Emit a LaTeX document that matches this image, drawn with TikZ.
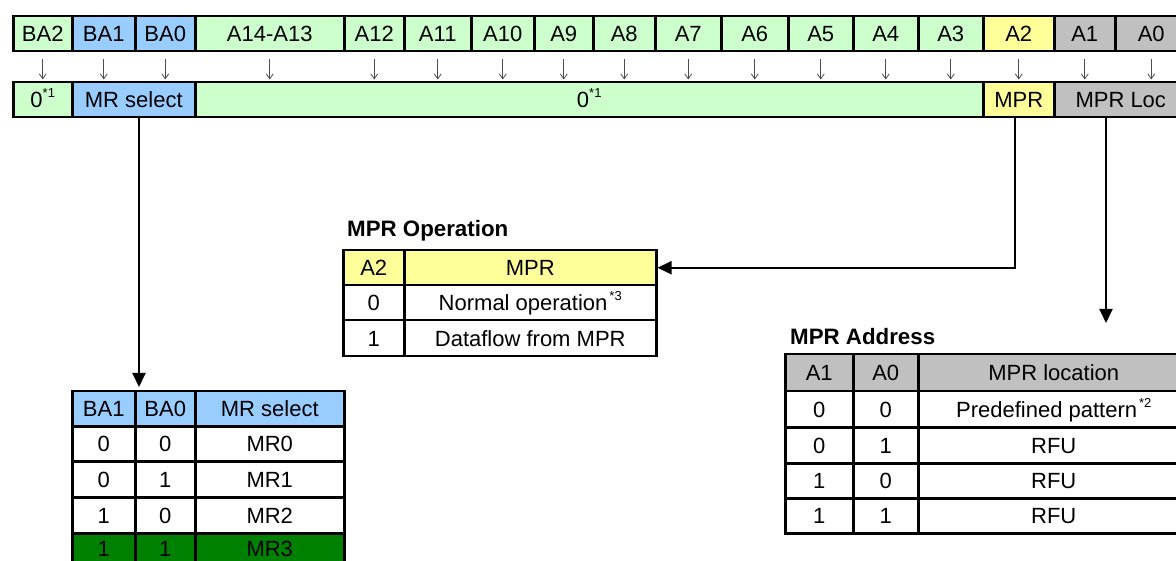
\documentclass[tikz,border=0pt]{standalone}
\usepackage{fontspec}
\setmainfont{Liberation Sans}
\usetikzlibrary{arrows.meta}
\definecolor{lgreen}{HTML}{CCFFCC}
\definecolor{lblue}{HTML}{99CCFF}
\definecolor{lyellow}{HTML}{FFFF99}
\definecolor{lgray}{HTML}{C0C0C0}
\definecolor{dgreen}{HTML}{008000}
\newcommand\cellfont{\fontsize{22}{26}\selectfont}
\newcommand\titlefont{\fontsize{22.3}{26}\selectfont\bfseries}
\newcommand\sups[1]{\raisebox{10pt}{\fontsize{13}{13}\selectfont #1}}
\tikzset{
  cellbox/.style={draw=black, line width=2.5pt, inner sep=0pt, anchor=north west,
    font=\cellfont, text=black, text height=16pt, text depth=0pt},
  smallarrow/.style={draw=black!70, line width=0.8pt, -{Straight Barb[length=5pt,width=7pt]}},
  conn/.style={draw=black, line width=2pt, -{Triangle[length=14pt,width=13pt]}},
  ttl/.style={font=\titlefont, anchor=west, inner sep=0pt},
}
\newcommand\Cell[7]{%
  \node[cellbox, fill=#6, minimum width={(#4-#2)*1pt}, minimum height={(#5-#3)*1pt}] (#1) at (#2,#3) {#7};}
\begin{document}
\begin{tikzpicture}[x=1pt,y=-1pt]
\path[use as bounding box, clip] (0,0) rectangle (1176,561);
% top row
\Cell{ba2}{12}{15}{71}{50}{lgreen}{BA2}
\Cell{ba1}{71}{15}{134}{50}{lblue}{BA1}
\Cell{ba0}{134}{15}{194}{50}{lblue}{BA0}
\Cell{a1413}{194}{15}{343}{50}{lgreen}{A14-A13}
\Cell{a12}{343}{15}{403}{50}{lgreen}{A12}
\Cell{a11}{403}{15}{470}{50}{lgreen}{A11}
\Cell{a10}{470}{15}{533}{50}{lgreen}{A10}
\Cell{a9}{533}{15}{592}{50}{lgreen}{A9}
\Cell{a8}{592}{15}{654}{50}{lgreen}{A8}
\Cell{a7}{654}{15}{720}{50}{lgreen}{A7}
\Cell{a6}{720}{15}{787}{50}{lgreen}{A6}
\Cell{a5}{787}{15}{852}{50}{lgreen}{A5}
\Cell{a4}{852}{15}{917}{50}{lgreen}{A4}
\Cell{a3}{917}{15}{982}{50}{lgreen}{A3}
\Cell{a2}{982}{15}{1053}{50}{lyellow}{A2}
\Cell{a1}{1053}{15}{1114}{50}{lgray}{A1}
\Cell{a0}{1114}{15}{1186}{50}{lgray}{A0}
% second row
\Cell{zl}{12}{81}{71}{116}{lgreen}{0\sups{*1}}
\Cell{mrsel}{71}{81}{194}{116}{lblue}{MR select}
\Cell{zmid}{194}{81}{982}{116}{lgreen}{0\sups{*1}}
\Cell{mpr}{982}{81}{1053}{116}{lyellow}{MPR}
\Cell{mprloc}{1053}{81}{1186}{116}{lgray}{MPR Loc}
% small arrows
\foreach \n in {ba2,ba1,ba0,a1413,a12,a11,a10,a9,a8,a7,a6,a5,a4,a3,a2,a1,a0}
  \draw[smallarrow] ([yshift=-7pt]\n.south) -- ([yshift=-27pt]\n.south);
% MPR Operation
\node[ttl] (optitle) at (347,231) {MPR Operation};
\Cell{oph1}{342}{249}{403}{284}{lyellow}{A2}
\Cell{oph2}{403}{249}{655}{284}{lyellow}{MPR}
\Cell{op11}{342}{284}{403}{319}{white}{0}
\Cell{op12}{403}{284}{655}{319}{white}{Normal operation\kern2pt\sups{*3}}
\Cell{op21}{342}{319}{403}{355}{white}{1}
\Cell{op22}{403}{319}{655}{355}{white}{Dataflow from MPR}
% MPR Address
\node[ttl] (adtitle) at (790,337) {MPR Address};
\Cell{adh1}{784}{353}{852}{390}{lgray}{A1}
\Cell{adh2}{852}{353}{917}{390}{lgray}{A0}
\Cell{adh3}{917}{353}{1188}{390}{lgray}{MPR location}
\Cell{ad11}{784}{390}{852}{426}{white}{0}
\Cell{ad12}{852}{390}{917}{426}{white}{0}
\Cell{ad13}{917}{390}{1188}{426}{white}{Predefined pattern\kern2pt\sups{*2}}
\Cell{ad21}{784}{426}{852}{462}{white}{0}
\Cell{ad22}{852}{426}{917}{462}{white}{1}
\Cell{ad23}{917}{426}{1188}{462}{white}{RFU}
\Cell{ad31}{784}{462}{852}{497}{white}{1}
\Cell{ad32}{852}{462}{917}{497}{white}{0}
\Cell{ad33}{917}{462}{1188}{497}{white}{RFU}
\Cell{ad41}{784}{497}{852}{532}{white}{1}
\Cell{ad42}{852}{497}{917}{532}{white}{1}
\Cell{ad43}{917}{497}{1188}{532}{white}{RFU}
% MR select table
\Cell{mrh1}{71}{390}{134}{425}{lblue}{BA1}
\Cell{mrh2}{134}{390}{194}{425}{lblue}{BA0}
\Cell{mrh3}{194}{390}{343}{425}{lblue}{MR select}
\Cell{mr11}{71}{425}{134}{460}{white}{0}
\Cell{mr12}{134}{425}{194}{460}{white}{0}
\Cell{mr13}{194}{425}{343}{460}{white}{MR0}
\Cell{mr21}{71}{460}{134}{496}{white}{0}
\Cell{mr22}{134}{460}{194}{496}{white}{1}
\Cell{mr23}{194}{460}{343}{496}{white}{MR1}
\Cell{mr31}{71}{496}{134}{532}{white}{1}
\Cell{mr32}{134}{496}{194}{532}{white}{0}
\Cell{mr33}{194}{496}{343}{532}{white}{MR2}
\Cell{mr41}{71}{532}{134}{563}{dgreen}{1}
\Cell{mr42}{134}{532}{194}{563}{dgreen}{1}
\Cell{mr43}{194}{532}{343}{563}{dgreen}{MR3}
% connectors
\coordinate (mrtip) at (139,387);
\draw[conn] (mrsel.south -| mrtip) -- (mrtip);
\draw[conn] ([xshift=-4pt]mpr.south) |- (oph2.east);
\coordinate (loctip) at (1106,323);
\draw[conn] (mprloc.south -| loctip) -- (loctip);
\end{tikzpicture}
\end{document}
